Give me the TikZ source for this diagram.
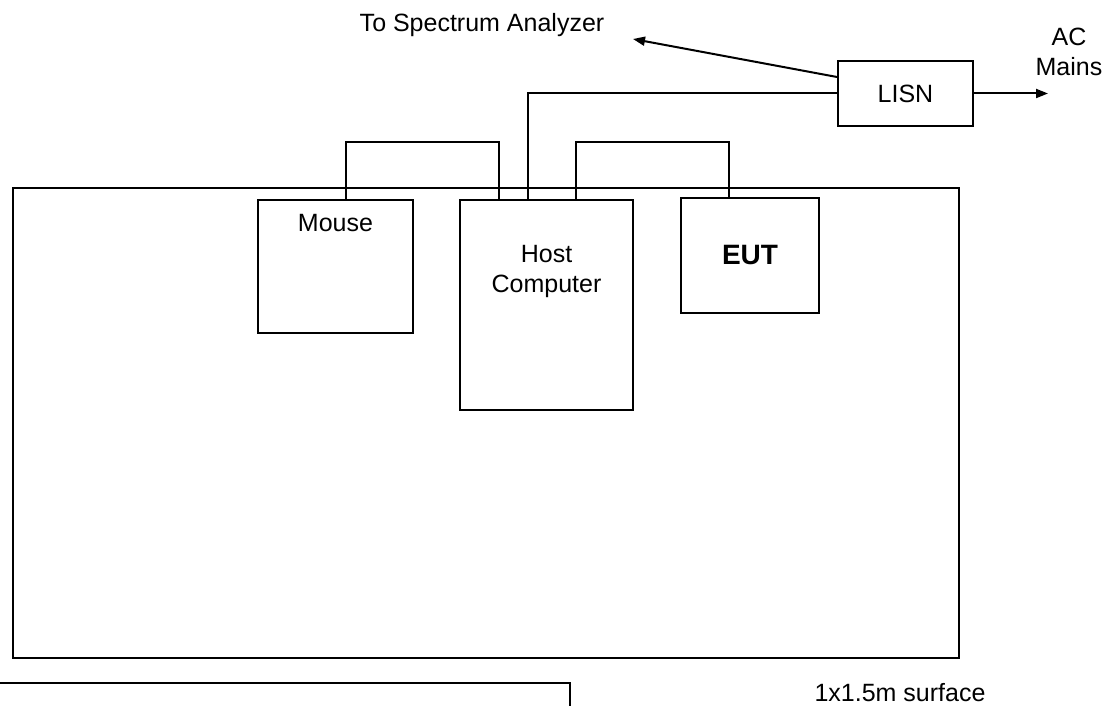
\documentclass[tikz,border=0pt]{standalone}
\usepackage{fontspec}
\setmainfont{Liberation Sans}
\usetikzlibrary{arrows.meta}

\begin{document}
\begin{tikzpicture}[x=1pt, y=1pt, line width=2pt]
        \tikzstyle{every node}=[font=\fontsize{25}{30}\selectfont]
        \tikzstyle{box}=[draw, rectangle, inner sep=0pt]
        \tikzstyle{tag}=[inner sep=0pt, align=center]
        \tikzstyle{feed}=[-{Triangle[length=12pt,width=9pt]}]
        \useasboundingbox (0,0) rectangle (1120,705);

        % table top and the units on it
        \path (486,282) node[box, minimum width=946pt, minimum height=470pt] (table) {};
        \path (335.5,438.5) node[box, minimum width=155pt, minimum height=133pt,
          label={[tag, name=mousetxt, anchor=north, yshift=-14pt]north:Mouse}] (mouse) {};
        \path (546.5,400) node[box, minimum width=173pt, minimum height=210pt,
          label={[tag, name=hosttxt, anchor=north, yshift=-45pt]north:Host\\Computer}] (host) {};
        \path (750,449.5) node[box, minimum width=138pt, minimum height=115pt,
          font=\fontsize{28}{32}\selectfont\bfseries] (eut) {EUT};
        \path (905.5,611.5) node[box, minimum width=135pt, minimum height=65pt] (lisn) {LISN};

        % free ends and texts
        \coordinate (sa) at (633,666);
        \coordinate (ac) at (1048,611.5);
        \path (482,673) node[tag, anchor=base] (satxt) {To Spectrum Analyzer};
        \path (1069,678) node[tag, anchor=north] (actxt) {AC\\Mains};
        \path (900,4) node[tag, anchor=base] (surftxt) {1x1.5m surface};

        % cables
        \draw ([xshift=10.5pt]mouse.north) -- ++(0,57) -| ([xshift=-47.5pt]host.north);
        \draw ([xshift=29.5pt]host.north) -- ++(0,57) -| ([xshift=-21pt]eut.north);
        \draw ([xshift=-18.5pt]host.north) |- (lisn.west);
        \draw [feed] (lisn.east) -- (ac);
        \draw [feed] ([yshift=16.5pt]lisn.west) -- (sa);

        % edge of the floor surface
        \draw (-2,22) -- (570,22) -- (570,-2);
      \end{tikzpicture}
\end{document}
